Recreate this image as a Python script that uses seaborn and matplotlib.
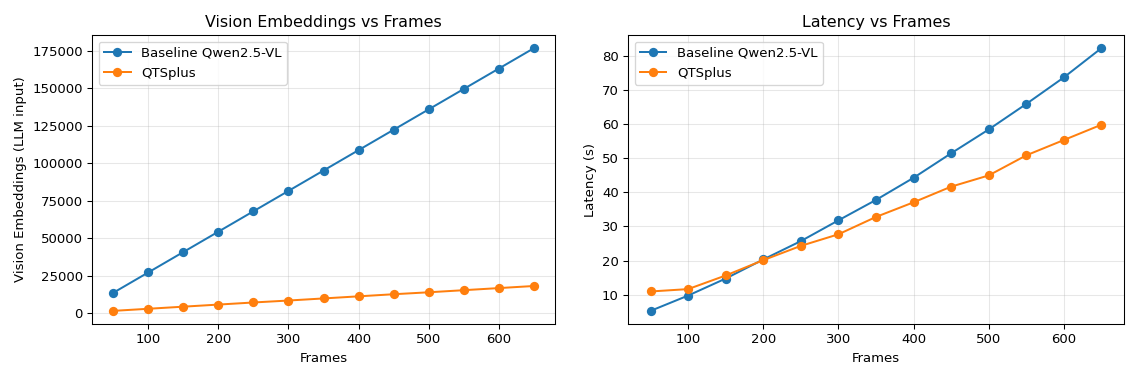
import pandas as pd
import matplotlib.pyplot as plt
import seaborn as sns

# Data
frames = [50, 100, 150, 200, 250, 300, 350, 400, 450, 500, 550, 600, 650]
emb_baseline = [13600, 27200, 40800, 54400, 68000, 81600, 95200, 108800,
                122400, 136000, 149600, 163200, 176800]
emb_qts = [1600, 3000, 4400, 5800, 7200, 8500, 9900, 11300,
           12700, 14000, 15400, 16800, 18200]
lat_baseline = [5.2, 9.7, 14.7, 20.3, 25.7, 31.8, 37.8, 44.3, 51.5, 58.5, 66.0, 73.8, 82.4]
lat_qts = [10.9, 11.6, 15.6, 20.1, 24.3, 27.7, 32.8, 37.1, 41.7, 45.0, 50.9, 55.4, 59.9]

df = pd.DataFrame({'Frames': frames,
                   'emb_base': emb_baseline, 'emb_qts': emb_qts,
                   'lat_base': lat_baseline, 'lat_qts': lat_qts})

dpi = 95.5
fig, axs = plt.subplots(1, 2, figsize=(1142 / dpi, 383 / dpi), dpi=dpi)

# Vision embeddings
sns.lineplot(ax=axs[0], data=df, x='Frames', y='emb_base', marker='o',
             markeredgewidth=0, markersize=7, color='#1f77b4', label='Baseline Qwen2.5-VL')
sns.lineplot(ax=axs[0], data=df, x='Frames', y='emb_qts', marker='o',
             markeredgewidth=0, markersize=7, color='#ff7f0e', label='QTSplus')
axs[0].set_title('Vision Embeddings vs Frames')
axs[0].set_xlabel('Frames')
axs[0].set_ylabel('Vision Embeddings (LLM input)')
axs[0].legend(loc='upper left')
axs[0].grid(True, alpha=0.3)

# Latency
sns.lineplot(ax=axs[1], data=df, x='Frames', y='lat_base', marker='o',
             markeredgewidth=0, markersize=7, color='#1f77b4', label='Baseline Qwen2.5-VL')
sns.lineplot(ax=axs[1], data=df, x='Frames', y='lat_qts', marker='o',
             markeredgewidth=0, markersize=7, color='#ff7f0e', label='QTSplus')
axs[1].set_title('Latency vs Frames')
axs[1].set_xlabel('Frames')
axs[1].set_ylabel('Latency (s)')
axs[1].legend(loc='upper left')
axs[1].grid(True, alpha=0.3)

# panel boxes placed to match the reference
axs[0].set_position([0.0806, 0.154, 0.4054, 0.7546])
axs[1].set_position([0.5499, 0.154, 0.4343, 0.7546])

plt.savefig('out.png')
plt.close()
